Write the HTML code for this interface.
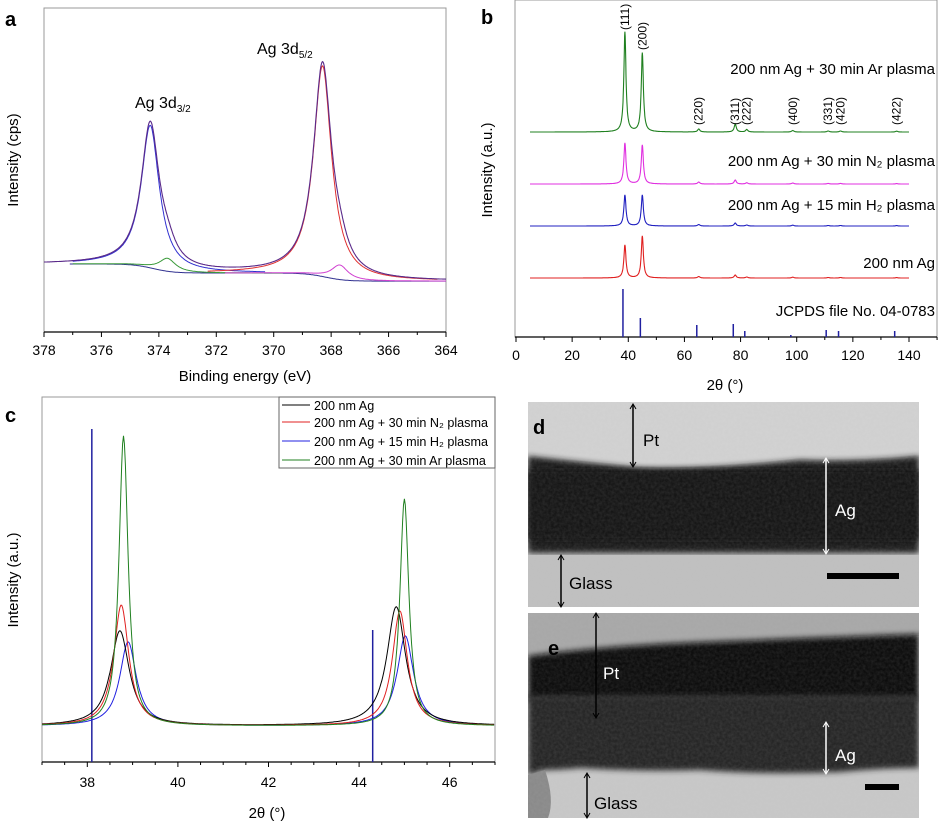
<!DOCTYPE html>
<html><head><meta charset="utf-8"><style>
body{margin:0;background:#fff;width:938px;height:823px;overflow:hidden;font-family:"Liberation Sans",sans-serif}
svg text{font-family:"Liberation Sans",sans-serif}
</style></head><body>
<svg id="fig" width="938" height="823" viewBox="0 0 938 823" xmlns="http://www.w3.org/2000/svg">
<defs>
<filter id="noise" x="0" y="0" width="100%" height="100%"><feTurbulence type="fractalNoise" baseFrequency="0.35" numOctaves="2" seed="3"/><feColorMatrix type="matrix" values="0 0 0 0 0.5  0 0 0 0 0.5  0 0 0 0 0.5  0 0 0 0.9 -0.2"/></filter>
<filter id="blur3"><feGaussianBlur stdDeviation="3"/></filter>
<clipPath id="cd"><rect x="528" y="402" width="391" height="205"/></clipPath>
<clipPath id="ce"><rect x="528" y="613" width="391" height="205"/></clipPath>
</defs>
<g id="pa"></g>
<g id="pb"></g>
<g id="pc"></g>

<!-- TEM d -->
<g clip-path="url(#cd)">
<rect x="528" y="402" width="391" height="205" fill="#c4c4c4"/>
<path d="M528 402H919V455Q860 462 800 458Q700 470 640 466Q580 460 528 458Z" fill="#d2d2d2"/>
<path d="M528 456Q580 462 640 468Q700 470 800 460Q860 462 919 456V553H528Z" fill="#1e1e1e" filter="url(#blur3)"/>
<rect x="528" y="470" width="391" height="70" fill="#161616" filter="url(#blur3)"/>
<rect x="528" y="555" width="391" height="52" fill="#c0c0c0"/>
<rect x="528" y="402" width="391" height="205" filter="url(#noise)" opacity="0.2"/>
</g>
<g>
<text x="533" y="434" font-size="20" font-weight="bold" fill="#000">d</text>
<line x1="633" y1="405" x2="633" y2="466" stroke="#000" stroke-width="1.5"/><path d="M630 409L633 404L636 409M630 462L633 467L636 462" fill="none" stroke="#000"/>
<text x="643" y="446" font-size="17">Pt</text>
<line x1="826" y1="459" x2="826" y2="553" stroke="#fff" stroke-width="1.5"/><path d="M823 463L826 458L829 463M823 549L826 554L829 549" fill="none" stroke="#fff"/>
<text x="835" y="516" font-size="17" fill="#fff">Ag</text>
<line x1="561" y1="556" x2="561" y2="606" stroke="#000" stroke-width="1.5"/><path d="M558 560L561 555L564 560M558 602L561 607L564 602" fill="none" stroke="#000"/>
<text x="569" y="589" font-size="17">Glass</text>
<rect x="827" y="573" width="72" height="6" fill="#000"/>
</g>

<!-- TEM e -->
<g clip-path="url(#ce)">
<rect x="528" y="613" width="391" height="205" fill="#c8c8c8"/>
<path d="M528 613H919V636Q800 640 700 644Q600 648 528 660Z" fill="#a8a8a8"/>
<path d="M528 656Q600 646 700 642Q800 638 919 634V700H528Z" fill="#0e0e0e" filter="url(#blur3)"/>
<path d="M528 695H919V768Q880 768 840 772Q760 775 700 770Q640 772 580 768Q560 770 545 770L528 775Z" fill="#262626" filter="url(#blur3)"/>
<path d="M528 775L545 770Q555 800 548 818H528Z" fill="#8a8a8a"/>
<rect x="528" y="613" width="391" height="205" filter="url(#noise)" opacity="0.2"/>
</g>
<g>
<text x="548" y="655" font-size="20" font-weight="bold" fill="#000">e</text>
<line x1="596" y1="614" x2="596" y2="717" stroke="#000" stroke-width="1.5"/><path d="M593 618L596 613L599 618M593 713L596 718L599 713" fill="none" stroke="#000"/>
<text x="603" y="679" font-size="17" fill="#fff">Pt</text>
<line x1="826" y1="723" x2="826" y2="773" stroke="#fff" stroke-width="1.5"/><path d="M823 727L826 722L829 727M823 769L826 774L829 769" fill="none" stroke="#fff"/>
<text x="835" y="761" font-size="17" fill="#fff">Ag</text>
<line x1="587" y1="774" x2="587" y2="817" stroke="#000" stroke-width="1.5"/><path d="M584 778L587 773L590 778M584 813L587 818L590 813" fill="none" stroke="#000"/>
<text x="594" y="809" font-size="17">Glass</text>
<rect x="865" y="784" width="34" height="6" fill="#000"/>
</g>
</svg>
<script>
const NS="http://www.w3.org/2000/svg";
function mk(parent,tag,attrs,txt){const e=document.createElementNS(NS,tag);for(const k in attrs)e.setAttribute(k,attrs[k]);if(txt!==undefined)e.textContent=txt;parent.appendChild(e);return e;}
function lor(x,c,h,g){return h*g*g/((x-c)*(x-c)+g*g);}

// ===== Panel A data =====
const aTicks=[378,376,374,372,370,368,366,364];
const aPeakPos=[374.3,373.7,368.3,367.7];
const aPeakH=[44,4,65,4.5];
const aPeakW=[0.38,0.35,0.38,0.35];
const aPeakColor=["#3030d0","#3a9a3a","#e03030","#d040d0"];
const aBgLevels=[21,18.2,15.7];
// ===== Panel B data =====
const bTicks=[0,20,40,60,80,100,120,140];
const bHkl=["(111)","(200)","(220)","(311)","(222)","(400)","(331)","(420)","(422)"];
const bPos=[38.1,44.3,64.4,77.4,81.5,97.9,110.5,114.9,134.9];
const bRef=[48,19,12,13,6,2,7,6,6];
const bSeriesNames=["200 nm Ag + 30 min Ar plasma","200 nm Ag + 30 min N₂ plasma","200 nm Ag + 15 min H₂ plasma","200 nm Ag"];
const bOffsets=[205,153,111,59];
const bArPeaks=[100,79,3,8,2.5,1.5,1,1,0.8];
const bN2Peaks=[41,39,2,4,1.2,1,0.6,0.6,0.4];
const bH2Peaks=[31,31,1.5,3,1,0.8,0.5,0.5,0.4];
const bAgPeaks=[33,42,1.5,3,1,0.8,0.5,0.5,0.4];
const bShift=[0.7,0.7,0.7,0.7];
// ===== Panel C data =====
const cTicks=[38,40,42,44,46];
const cRefPos=[38.1,44.3];
const cRefH=[99,32];
const cNames=["200 nm Ag","200 nm Ag + 30 min N₂ plasma","200 nm Ag + 15 min H₂ plasma","200 nm Ag + 30 min Ar plasma"];
const cColors=["#000","#e02020","#2020e0","#208020"];
const cPos1=[38.72,38.75,38.9,38.8];
const cPos2=[44.82,44.9,45.02,45.0];
const cH1=[31.7,40.3,28,96.7];
const cH2=[39.7,38.3,30,75.7];
const cW=[0.25,0.2,0.22,0.12];

// ---------- Panel A ----------
(function(){
const g=document.getElementById('pa');
const X0=44,X1=446,Y0=8,Y1=332;
const xs=v=>X0+(378-v)/(378-364)*(X1-X0);
const ys=v=>Y1-v*3.24;
mk(g,'text',{x:5,y:26,'font-size':20,'font-weight':'bold',},'a');
const fr=mk(g,'rect',{x:X0,y:Y0,width:X1-X0,height:Y1-Y0,fill:'none',stroke:'#999','stroke-width':1});

mk(g,'line',{x1:X0,y1:Y1,x2:X1,y2:Y1,stroke:'#000','stroke-width':1.2});
for(let v=378;v>=364;v-=1){mk(g,'line',{x1:xs(v),x2:xs(v),y1:Y1,y2:Y1+(v%2==0?5:3),stroke:'#000'});}
aTicks.forEach(v=>{const t=mk(g,'text',{x:xs(v),y:355,'font-size':14,'text-anchor':'middle'},v);
});
const xt=mk(g,'text',{x:245,y:381,'font-size':15,'text-anchor':'middle'},'Binding energy (eV)');

const yt=mk(g,'text',{x:0,y:0,'font-size':15,'text-anchor':'middle',transform:'translate(18,160) rotate(-90)'},'Intensity (cps)');

const bg=v=>aBgLevels[2]+(aBgLevels[1]-aBgLevels[2])/(1+Math.exp(-(v-368.2)/0.35))+(aBgLevels[0]-aBgLevels[1])/(1+Math.exp(-(v-374.2)/0.35));
function path(f,lo,hi){let d='';for(let v=hi;v>=lo;v-=0.02){d+=(d?'L':'M')+xs(v).toFixed(1)+' '+ys(f(v)).toFixed(1);}return d;}
const bp=mk(g,'path',{d:path(bg,364,377.1),fill:'none',stroke:'#303090','stroke-width':1});

aPeakPos.forEach((c,i)=>{const p=mk(g,'path',{d:path(v=>bg(v)+lor(v,c,aPeakH[i],aPeakW[i]),Math.max(364,c-4),Math.min(377,c+4)),fill:'none',stroke:aPeakColor[i],'stroke-width':1});
});
const env=v=>bg(v)+aPeakPos.reduce((s,c,i)=>s+lor(v,c,aPeakH[i],aPeakW[i]),0);
const ep=mk(g,'path',{d:path(env,364,378),fill:'none',stroke:'#5a2a8a','stroke-width':1.1});

const l1=mk(g,'text',{x:135,y:108,'font-size':16});l1.innerHTML='Ag 3d<tspan font-size="10" dy="4">3/2</tspan>';

const l2=mk(g,'text',{x:257,y:54,'font-size':16});l2.innerHTML='Ag 3d<tspan font-size="10" dy="4">5/2</tspan>';

})();

// ---------- Panel B ----------
(function(){
const g=document.getElementById('pb');
const X0=516,X1=909,Y1=337;
const xs=v=>X0+v/140*(X1-X0);
const ys=v=>Y1-v;
mk(g,'text',{x:481,y:24,'font-size':20,'font-weight':'bold',},'b');
const fr=mk(g,'rect',{x:515,y:0,width:422,height:337,fill:'none',stroke:'#999'});

mk(g,'line',{x1:515,y1:Y1,x2:937,y2:Y1,stroke:'#000','stroke-width':1.2});
for(let v=0;v<=150;v+=10){mk(g,'line',{x1:xs(v),x2:xs(v),y1:Y1,y2:Y1+(v%20==0?5:3),stroke:'#000'});}
bTicks.forEach(v=>{const t=mk(g,'text',{x:xs(v),y:360,'font-size':14,'text-anchor':'middle'},v);
});
const xt=mk(g,'text',{x:725,y:390,'font-size':15,'text-anchor':'middle'},'2θ (°)');

const yt=mk(g,'text',{x:0,y:0,'font-size':15,'text-anchor':'middle',transform:'translate(492,170) rotate(-90)'},'Intensity (a.u.)');

bPos.forEach((p,i)=>{const l=mk(g,'line',{x1:xs(p),x2:xs(p),y1:Y1,y2:ys(bRef[i]),stroke:'#2020a0','stroke-width':1.5});
});
const series=[bArPeaks,bN2Peaks,bH2Peaks,bAgPeaks];
const cols=["#208020","#e030e0","#2020c0","#e02020"];
series.forEach((pk,s)=>{let d='';for(let v=5;v<=140;v+=0.1){let y=bOffsets[s];bPos.forEach((p,i)=>{y+=lor(v,p+bShift[s],pk[i],0.45);});d+=(d?'L':'M')+xs(v).toFixed(1)+' '+ys(y).toFixed(1);}
const p=mk(g,'path',{d:d,fill:'none',stroke:cols[s],'stroke-width':1.1});
});
const labY=[74,166,210,268];
bSeriesNames.forEach((n,i)=>{const t=mk(g,'text',{x:935,y:labY[i],'font-size':15,'text-anchor':'end'},n);
});
const jt=mk(g,'text',{x:935,y:316,'font-size':15,'text-anchor':'end'},'JCPDS file No. 04-0783');

bPos.forEach((p,i)=>{const x=xs(p+0.7)+4;const yb=i<2?(i==0?30:50):125;
const t=mk(g,'text',{x:0,y:0,'font-size':12,transform:`translate(${x},${yb}) rotate(-90)`},bHkl[i]);
});
})();

// ---------- Panel C ----------
(function(){
const g=document.getElementById('pc');
const X0=42,X1=495,Y0=397,Y1=762;
const xs=v=>X0+(v-37)/10*(X1-X0);
const ys=v=>726-v*3;
mk(g,'text',{x:5,y:422,'font-size':20,'font-weight':'bold',},'c');
const fr=mk(g,'rect',{x:X0,y:Y0,width:X1-X0,height:Y1-Y0,fill:'none',stroke:'#999'});

mk(g,'line',{x1:X0,y1:Y1,x2:X1,y2:Y1,stroke:'#000','stroke-width':1.2});
for(let v=37;v<=47.001;v+=0.5){mk(g,'line',{x1:xs(v),x2:xs(v),y1:Y1,y2:Y1+(Math.abs(v%2)<0.01?5:3),stroke:'#000'});}
cTicks.forEach(v=>{const t=mk(g,'text',{x:xs(v),y:787,'font-size':14,'text-anchor':'middle'},v);
});
const xt=mk(g,'text',{x:267,y:818,'font-size':15,'text-anchor':'middle'},'2θ (°)');

const yt=mk(g,'text',{x:0,y:0,'font-size':15,'text-anchor':'middle',transform:'translate(18,580) rotate(-90)'},'Intensity (a.u.)');

cRefPos.forEach((p,i)=>{const l=mk(g,'line',{x1:xs(p),x2:xs(p),y1:Y1,y2:ys(cRefH[i]),stroke:'#2020a0','stroke-width':1.5});
});
[2,0,1,3].forEach(s=>{let d='';for(let v=37;v<=47;v+=0.02){const y=lor(v,cPos1[s],cH1[s],cW[s])+lor(v,cPos2[s],cH2[s],cW[s]);d+=(d?'L':'M')+xs(v).toFixed(1)+' '+ys(y).toFixed(1);}
const p=mk(g,'path',{d:d,fill:'none',stroke:cColors[s],'stroke-width':1});
});
const lg=mk(g,'g',{});

mk(lg,'rect',{x:279,y:397,width:216,height:71,fill:'#fff',stroke:'#666'});
const ly=[405,422,441,460];
cNames.forEach((n,i)=>{mk(lg,'line',{x1:282,x2:310,y1:ly[i],y2:ly[i],stroke:cColors[i],'stroke-width':1});
const t=mk(lg,'text',{x:314,y:ly[i]+5,'font-size':12.6},n);
});
})();
</script>
</body></html>
